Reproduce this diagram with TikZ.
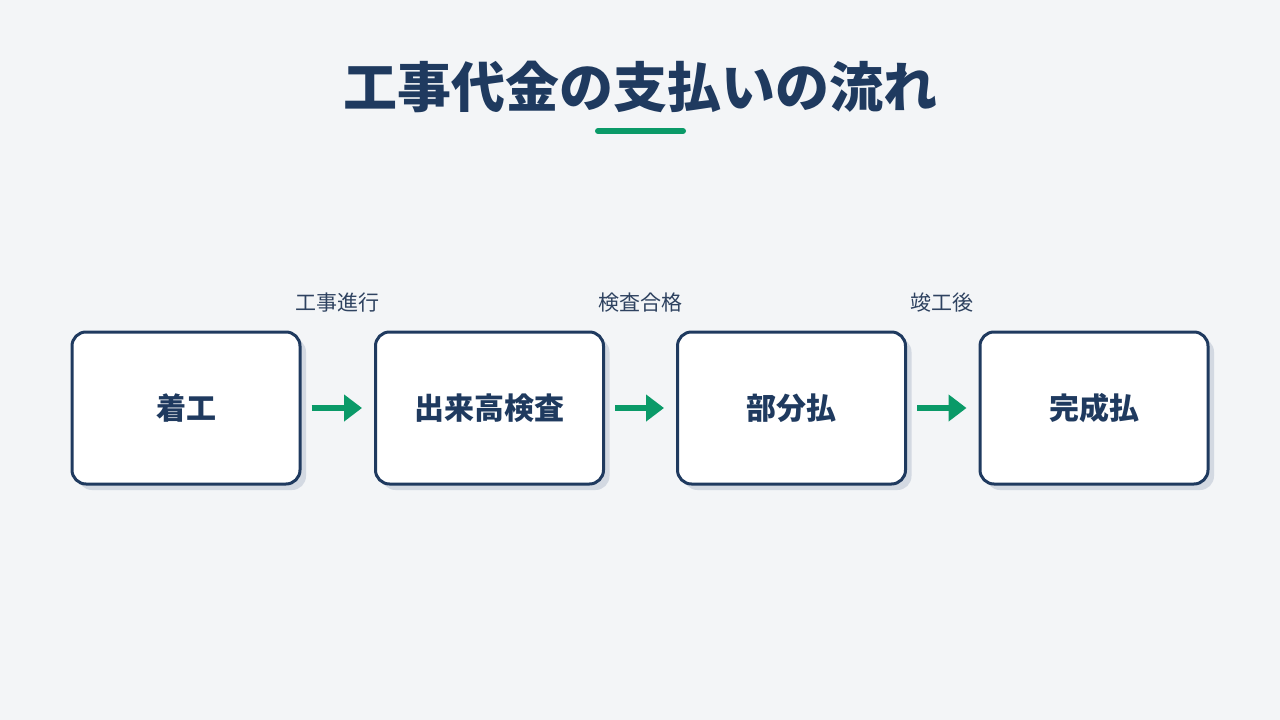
\documentclass[tikz,border=0pt]{standalone}
\usepackage{fontspec}
\newfontfamily\cjk{Noto Sans CJK JP}
\usetikzlibrary{arrows.meta,shadows}
\definecolor{bg}{HTML}{F3F5F7}
\definecolor{navy}{HTML}{1F3A5F}
\definecolor{grn}{HTML}{0A9A68}
\definecolor{shd}{HTML}{D3D9E2}
\definecolor{lbl}{HTML}{2E4260}
\tikzset{
  stepbox/.style={draw=navy, line width=3pt, fill=white, rounded corners=14pt,
    minimum width=228pt, minimum height=152pt, inner sep=0pt,
    font=\cjk\bfseries\fontsize{30}{34}\selectfont, text=navy,
    drop shadow={shadow xshift=6pt, shadow yshift=-6pt, fill=shd, opacity=1}},
  flow/.style={draw=grn, line width=6pt, -{Triangle[length=18pt,width=26pt]}},
  steplbl/.style={font=\cjk\fontsize{21}{24}\selectfont, text=lbl, inner sep=0pt}
}
\begin{document}
\begin{tikzpicture}[x=1pt,y=-1pt]
\fill[bg] (0,0) rectangle (1280,720);
\useasboundingbox (0,0) rectangle (1280,720);
\node[font=\cjk\bfseries\fontsize{54}{60}\selectfont, text=navy, inner sep=0pt] (title) at (640,87) {工事代金の支払いの流れ};
\coordinate (ulA) at (598,131);
\coordinate (ulB) at (683,131);
\draw[grn, line width=6pt, line cap=round] (ulA) -- (ulB);
\node[stepbox] (s1) at (186,408) {着工};
\node[stepbox] (s2) at (489.5,408) {出来高検査};
\node[stepbox] (s3) at (791.5,408) {部分払};
\node[stepbox] (s4) at (1094,408) {完成払};
\draw[flow] ([xshift=10pt]s1.east) -- ([xshift=-12pt]s2.west);
\draw[flow] ([xshift=10pt]s2.east) -- ([xshift=-12pt]s3.west);
\draw[flow] ([xshift=10pt]s3.east) -- ([xshift=-12pt]s4.west);
\node[steplbl] (l1) at (337,303) {工事進行};
\node[steplbl] (l2) at (640,303) {検査合格};
\node[steplbl] (l3) at (942,303) {竣工後};
\end{tikzpicture}
\end{document}
